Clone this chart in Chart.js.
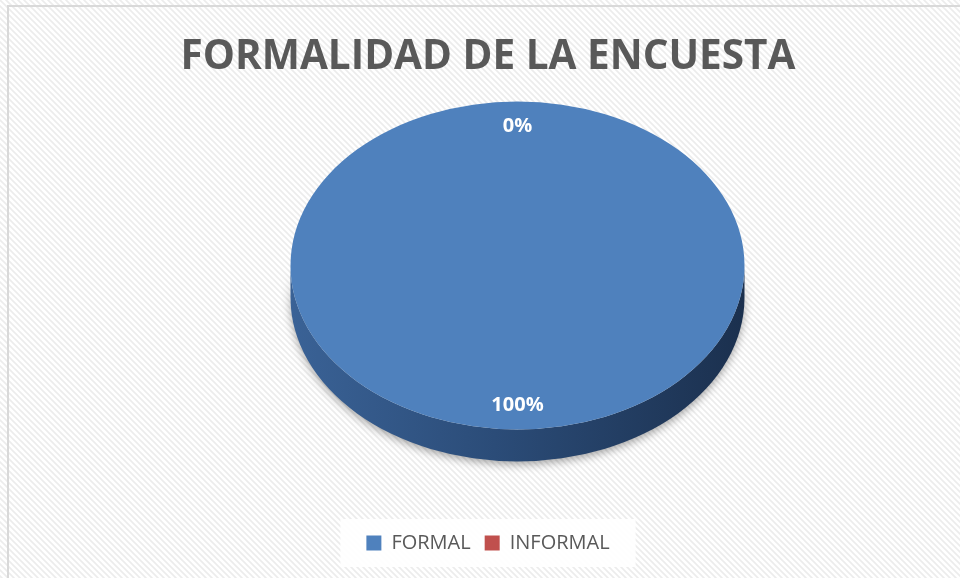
<!DOCTYPE html>
<html>
<head>
<meta charset="utf-8">
<title>Formalidad de la encuesta</title>
<script src="https://cdn.jsdelivr.net/npm/chart.js@4.4.1/dist/chart.umd.min.js"></script>
<style>
  html, body { margin: 0; padding: 0; background: #fff; }
  #wrap { width: 960px; height: 578px; }
</style>
</head>
<body>
<div id="wrap"><canvas id="pieChart" width="960" height="578"></canvas></div>
<script>
const chartTitle = "FORMALIDAD DE LA ENCUESTA";
const categories = ["FORMAL", "INFORMAL"];
const shares = [100, 0];
const sliceColors = ["#4f81bd", "#c0504d"];

// look of the tilted 3d pie
const PIE_CENTER = { x: 517.5, y: 265.5 };
const PIE_RADIUS = 227;
const TILT = 0.722;
const DEPTH = 32;
const LABEL_POS = 0.85;

function stripePattern(ctx) {
  const tile = document.createElement("canvas");
  tile.width = 6;
  tile.height = 6;
  const t = tile.getContext("2d");
  t.fillStyle = "#ffffff";
  t.fillRect(0, 0, 6, 6);
  t.strokeStyle = "#ececec";
  t.lineWidth = 1.6;
  t.beginPath();
  t.moveTo(-1, -1); t.lineTo(7, 7);
  t.moveTo(-4, 2); t.lineTo(1, 7);
  t.moveTo(5, -1); t.lineTo(10, 4);
  t.stroke();
  return ctx.createPattern(tile, "repeat");
}

const backdropPlugin = {
  id: "backdrop",
  beforeDraw(chart) {
    const ctx = chart.ctx;
    ctx.save();
    ctx.fillStyle = stripePattern(ctx);
    ctx.fillRect(0, 0, chart.width, chart.height);

    ctx.strokeStyle = "#d9d9d9";
    ctx.lineWidth = 2;
    ctx.beginPath();
    ctx.moveTo(8, chart.height);
    ctx.lineTo(8, 6);
    ctx.lineTo(chart.width, 6);
    ctx.stroke();

    // white panel behind the legend
    const boxes = chart.legend.legendHitBoxes;
    if (boxes && boxes.length) {
      const left = Math.min(...boxes.map((b) => b.left));
      const right = Math.max(...boxes.map((b) => b.left + b.width));
      const top = Math.min(...boxes.map((b) => b.top));
      const bottom = Math.max(...boxes.map((b) => b.top + b.height));
      ctx.fillStyle = "rgba(255,255,255,0.92)";
      ctx.fillRect(left - 26, top - 14, right - left + 52, bottom - top + 28);
    }
    ctx.restore();
  },
};

const tiltPlugin = {
  id: "tilt",
  beforeDatasetsDraw(chart) {
    const ctx = chart.ctx;
    const arc = chart.getDatasetMeta(0).data[0];
    const cx = PIE_CENTER.x;
    const cy = PIE_CENTER.y;
    const r = arc.outerRadius;
    const ry = r * TILT;

    // side wall of the pie
    ctx.save();
    const grad = ctx.createLinearGradient(cx - r, 0, cx + r, 0);
    grad.addColorStop(0, "#3a6296");
    grad.addColorStop(0.45, "#2b4c78");
    grad.addColorStop(1, "#1b304e");
    ctx.fillStyle = grad;
    ctx.shadowColor = "rgba(0,0,0,0.35)";
    ctx.shadowBlur = 9;
    ctx.shadowOffsetY = 3;
    ctx.beginPath();
    ctx.moveTo(cx + r, cy);
    ctx.lineTo(cx + r, cy + DEPTH);
    ctx.ellipse(cx, cy + DEPTH, r, ry, 0, 0, Math.PI, false);
    ctx.lineTo(cx - r, cy);
    ctx.ellipse(cx, cy, r, ry, 0, Math.PI, 0, true);
    ctx.closePath();
    ctx.fill();
    ctx.restore();

    // squash the top face into an ellipse
    ctx.save();
    ctx.translate(cx, cy);
    ctx.scale(1, TILT);
    ctx.translate(-arc.x, -arc.y);
  },
  afterDatasetsDraw(chart) {
    const ctx = chart.ctx;
    ctx.restore();

    const meta = chart.getDatasetMeta(0);
    ctx.save();
    ctx.fillStyle = "#ffffff";
    ctx.font = "bold 20px 'Open Sans'";
    ctx.textAlign = "center";
    ctx.textBaseline = "middle";
    meta.data.forEach((el, i) => {
      const mid = (el.startAngle + el.endAngle) / 2;
      const d = el.outerRadius * LABEL_POS;
      const x = PIE_CENTER.x + Math.cos(mid) * d;
      const y = PIE_CENTER.y + Math.sin(mid) * d * TILT;
      ctx.fillText(shares[i] + "%", x, y);
    });
    ctx.restore();
  },
};

Chart.defaults.font.family = "'Open Sans', sans-serif";

new Chart(document.getElementById("pieChart"), {
  type: "pie",
  data: {
    labels: categories,
    datasets: [
      {
        data: shares,
        backgroundColor: sliceColors,
        borderWidth: 0,
        radius: PIE_RADIUS,
        clip: false,
      },
    ],
  },
  options: {
    responsive: false,
    animation: false,
    events: [],
    layout: { padding: { left: 16, right: 0, top: 0, bottom: 15 } },
    plugins: {
      title: {
        display: true,
        text: chartTitle,
        color: "#595959",
        font: { size: 40.5, weight: "bold" },
        padding: { top: 33, bottom: 10 },
      },
      legend: {
        position: "bottom",
        labels: {
          color: "#595959",
          font: { size: 20 },
          boxWidth: 15,
          boxHeight: 15,
          padding: 14,
        },
      },
      tooltip: { enabled: false },
    },
  },
  plugins: [backdropPlugin, tiltPlugin],
});
</script>
</body>
</html>
